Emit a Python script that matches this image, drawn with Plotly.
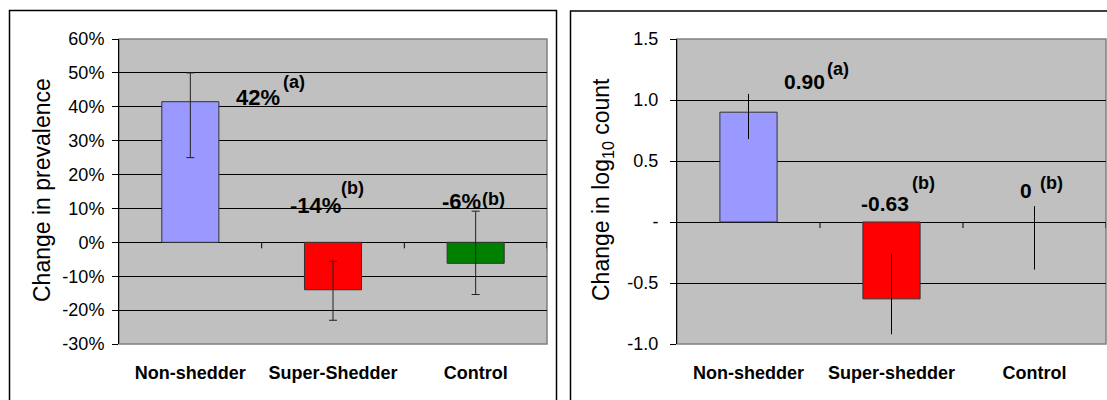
import plotly.graph_objects as go

# ---------------- data ----------------
categories_left = ["Non-shedder", "Super-Shedder", "Control"]
prevalence_change = [0.415, -0.14, -0.062]
prevalence_err_plus = [0.085, 0.084, 0.154]
prevalence_err_minus = [0.165, 0.09, 0.092]
prevalence_labels = ["42%", "-14%", "-6%"]
prevalence_letters = ["(a)", "(b)", "(b)"]
left_tickvals = [0.6, 0.5, 0.4, 0.3, 0.2, 0.1, 0.0, -0.1, -0.2, -0.3]
left_ticktext = ["60%", "50%", "40%", "30%", "20%", "10%", "0%", "-10%", "-20%", "-30%"]

categories_right = ["Non-shedder", "Super-shedder", "Control"]
log_change = [0.90, -0.63, 0.0]
log_err_plus = [0.15, 0.37, 0.13]
log_err_minus = [0.22, 0.29, 0.39]
log_labels = ["0.90", "-0.63", "0"]
log_letters = ["(a)", "(b)", "(b)"]
right_tickvals = [1.5, 1.0, 0.5, 0.0, -0.5, -1.0]
right_ticktext = ["1.5", "1.0", "0.5", "-", "-0.5", "-1.0"]

bar_colors = ["#9999FF", "#FF0000", "#008000"]

# ---------------- layout constants ----------------
W, H = 1107, 400
FONT = "Liberation Sans, Arial, sans-serif"

def px_x(p):
    return p / W

def px_y(p):
    return 1 - p / H

fig = go.Figure()

fig.add_trace(go.Bar(
    x=categories_left, y=prevalence_change,
    marker=dict(color=bar_colors, line=dict(color="#333333", width=1)),
    error_y=dict(type="data", symmetric=False, array=prevalence_err_plus,
                 arrayminus=prevalence_err_minus, color="#222222", thickness=1, width=4),
    xaxis="x", yaxis="y", showlegend=False, hoverinfo="skip",
))
fig.add_trace(go.Bar(
    x=categories_right, y=log_change,
    marker=dict(color=bar_colors,
                line=dict(color="#333333", width=[1 if v != 0 else 0 for v in log_change])),
    error_y=dict(type="data", symmetric=False, array=log_err_plus,
                 arrayminus=log_err_minus, color="#000000", thickness=1, width=0),
    xaxis="x2", yaxis="y2", showlegend=False, hoverinfo="skip",
))

ydom = [px_y(344), px_y(39)]
xcommon = dict(showgrid=False, zeroline=False, showline=False, ticks="outside",
               ticklen=12, tickcolor="rgba(0,0,0,0)",
               tickfont=dict(family=FONT, size=18, color="black", weight="bold"),
               range=[-0.5, 2.5], automargin=False, fixedrange=True)
ycommon = dict(showgrid=True, gridcolor="#000000", gridwidth=1,
               zeroline=True, zerolinecolor="#000000", zerolinewidth=1,
               showline=True, linecolor="#000000", linewidth=1,
               ticks="outside", ticklen=6, tickcolor="#000000",
               tickfont=dict(family=FONT, size=18, color="black"),
               automargin=False, fixedrange=True)

fig.update_layout(
    width=W, height=H,
    margin=dict(l=0, r=0, t=0, b=0),
    paper_bgcolor="white", plot_bgcolor="#C0C0C0",
    bargap=0.6,
    xaxis=dict(domain=[px_x(119), px_x(547)], anchor="y", **xcommon),
    yaxis=dict(domain=ydom, anchor="x", range=[-0.3, 0.6],
               tickvals=left_tickvals, ticktext=left_ticktext, ticklabelstandoff=4, **ycommon),
    xaxis2=dict(domain=[px_x(677), px_x(1106)], anchor="y2", **xcommon),
    yaxis2=dict(domain=ydom, anchor="x2", range=[-1.0, 1.5],
                tickvals=right_tickvals, ticktext=right_ticktext, ticklabelstandoff=8, **ycommon),
)

shapes = []
# panel borders
shapes.append(dict(type="rect", xref="paper", yref="paper",
                   x0=px_x(9.5), x1=px_x(556.5), y0=px_y(410), y1=px_y(10.5),
                   line=dict(color="black", width=1.5), layer="above"))
shapes.append(dict(type="rect", xref="paper", yref="paper",
                   x0=px_x(570.5), x1=px_x(1120), y0=px_y(410), y1=px_y(11),
                   line=dict(color="black", width=1.5), layer="above"))
# plot-area grey borders
for xa, ya in (("x", "y"), ("x2", "y2")):
    shapes.append(dict(type="rect", xref=f"{xa} domain", yref=f"{ya} domain",
                       x0=0, x1=1, y0=0, y1=1,
                       line=dict(color="#808080", width=1.5), layer="below"))
    # category boundary tick marks hanging below the zero line
    for b in (0.5, 1.5, 2.5):
        shapes.append(dict(type="line", xref=xa, yref=ya, x0=b, x1=b,
                           ysizemode="pixel", yanchor=0, y0=0, y1=-6,
                           line=dict(color="black", width=1)))
fig.update_layout(shapes=shapes)

ann = []
# value labels (offsets in pixels relative to category centre on the zero line)
left_val_shift = [(68, 145), (-18, 37), (-14, 41)]
left_let_shift = [(104, 160), (19, 54), (18, 43)]
for i, c in enumerate(categories_left):
    ann.append(dict(x=c, y=0, xref="x", yref="y", text=f"<b>{prevalence_labels[i]}</b>",
                    showarrow=False, xshift=left_val_shift[i][0], yshift=left_val_shift[i][1],
                    font=dict(family=FONT, size=22, color="black")))
    ann.append(dict(x=c, y=0, xref="x", yref="y", text=f"<b>{prevalence_letters[i]}</b>",
                    showarrow=False, xshift=left_let_shift[i][0], yshift=left_let_shift[i][1],
                    font=dict(family=FONT, size=18, color="black")))
right_val_shift = [(56, 141), (-7, 19), (-9, 32)]
right_let_shift = [(89, 153), (32, 39), (17, 39)]
for i, c in enumerate(categories_right):
    ann.append(dict(x=c, y=0, xref="x2", yref="y2", text=f"<b>{log_labels[i]}</b>",
                    showarrow=False, xshift=right_val_shift[i][0], yshift=right_val_shift[i][1],
                    font=dict(family=FONT, size=21, color="black")))
    ann.append(dict(x=c, y=0, xref="x2", yref="y2", text=f"<b>{log_letters[i]}</b>",
                    showarrow=False, xshift=right_let_shift[i][0], yshift=right_let_shift[i][1],
                    font=dict(family=FONT, size=18, color="black")))
# axis titles
ann.append(dict(x=px_x(42), y=px_y(190), xref="paper", yref="paper", text="Change in prevalence",
                xanchor="center", yanchor="middle",
                textangle=-90, showarrow=False, font=dict(family=FONT, size=23, color="black")))
ann.append(dict(x=px_x(602), y=px_y(190), xref="paper", yref="paper",
                text="Change in log<sub>10</sub> count",
                xanchor="center", yanchor="middle",
                textangle=-90, showarrow=False, font=dict(family=FONT, size=23, color="black")))
fig.update_layout(annotations=ann)

fig.write_html("out.html")
